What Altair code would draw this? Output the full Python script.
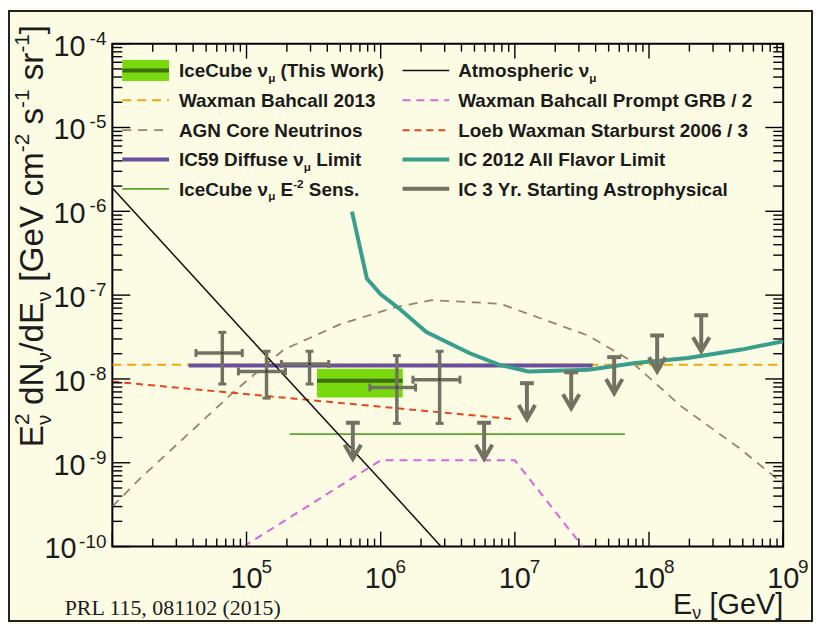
import altair as alt
import pandas as pd

W, H = 675, 506
PAD = {"left": 105, "top": 34, "right": 30, "bottom": 76}
BG = "#fcfbe4"
INK = "#1b1b1b"

# ---------------- data ----------------
wb2013_E = [1e4, 1e9]
wb2013_F = [1.48e-8, 1.48e-8]

agn_E = [1e4, 1.58e4, 8.1e4, 1.9e5, 5.0e5, 1.29e6, 2.4e6, 7.8e6, 3.5e7, 7.1e7, 1.74e8, 4.7e8, 1e9]
agn_F = [3.0e-10, 6.3e-10, 7.1e-9, 2.24e-8, 4.5e-8, 7.2e-8, 8.7e-8, 7.9e-8, 3.3e-8, 1.7e-8, 4.7e-9, 1.5e-9, 5.6e-10]

loeb_E = [1e4, 1e7]
loeb_F = [9.3e-9, 3.3e-9]

grb_E = [9.5e4, 1e6, 1e7, 3.2e7]
grb_F = [1e-10, 1.07e-9, 1.07e-9, 1e-10]

sens_E = [2.1e5, 6.6e7]
sens_F = [2.2e-9, 2.2e-9]

ic59_E = [3.7e4, 3.8e7]
ic59_F = [1.45e-8, 1.45e-8]

ic2012_E = [6.11e5, 7.89e5, 1e6, 1.36e6, 2.19e6, 4.57e6, 7.59e6, 1.26e7, 3.55e7, 7.94e7, 1.95e8, 4.9e8, 1e9]
ic2012_F = [9.9e-7, 1.58e-7, 1.02e-7, 7.0e-8, 3.63e-8, 2.04e-8, 1.48e-8, 1.23e-8, 1.29e-8, 1.55e-8, 1.78e-8, 2.24e-8, 2.82e-8]

atm_E = [1e4, 1e5, 1e6, 3.2e6]
atm_F = [1.9e-6, 3.4e-8, 6.2e-10, 8.0e-11]

# IC 3 yr starting: measured points
st_E = [6.6e4, 1.41e5, 2.95e5, 1.32e6, 2.75e6]
st_Elo = [4.2e4, 8.7e4, 1.82e5, 8.3e5, 1.74e6]
st_Ehi = [9.3e4, 1.95e5, 4.1e5, 1.82e6, 3.9e6]
st_F = [2.04e-8, 1.23e-8, 1.51e-8, 7.9e-9, 9.8e-9]
st_Flo = [8.7e-9, 5.9e-9, 8.7e-9, 2.95e-9, 2.95e-9]
st_Fhi = [3.6e-8, 2.14e-8, 2.14e-8, 1.9e-8, 2.14e-8]
# IC 3 yr starting: upper limits
ul_E = [6.2e5, 5.9e6, 1.23e7, 2.63e7, 5.5e7, 1.15e8, 2.45e8]
ul_F = [3.0e-9, 3.0e-9, 8.9e-9, 1.2e-8, 1.82e-8, 3.3e-8, 5.75e-8]

# This work (green band)
tw_Elo, tw_Ehi = [3.35e5], [1.46e6]
tw_Flo, tw_Fhi, tw_Fc = [6.0e-9], [1.32e-8], [9.5e-9]

# axis ticks / labels
x_decades = [1e4, 1e5, 1e6, 1e7, 1e8, 1e9]
y_decades = [1e-10, 1e-9, 1e-8, 1e-7, 1e-6, 1e-5, 1e-4]
minor_mult = [2, 3, 4, 5, 6, 7, 8, 9]
x_label_vals = [1e5, 1e6, 1e7, 1e8, 1e9]
x_label_exp = ["5", "6", "7", "8", "9"]
y_label_vals = [1e-4, 1e-5, 1e-6, 1e-7, 1e-8, 1e-9, 1e-10]
y_label_exp = ["-4", "-5", "-6", "-7", "-8", "-9", "-10"]

# ---------------- colours ----------------
C_ORANGE = "#eea60c"
C_BROWN = "#9a8270"
C_RED = "#e4471a"
C_MAG = "#d865dc"
C_SENS = "#5ca52c"
C_PURPLE = "#6a4f9c"
C_TEAL = "#3a9e8c"
C_GRAY = "#727262"
C_BLACK = "#111111"
C_BOX = "#78d90c"
C_BOXLINE = "#3f6e12"

xs = alt.Scale(type="log", domain=[1e4, 1e9])
ys = alt.Scale(type="log", domain=[1e-10, 1e-4])


def X(f="E"):
    return alt.X(f"{f}:Q", scale=xs, axis=None)


def Y(f="F"):
    return alt.Y(f"{f}:Q", scale=ys, axis=None)


def line(E, F, color, width, dash=None):
    kw = dict(color=color, strokeWidth=width, clip=True)
    if dash:
        kw["strokeDash"] = dash
    return alt.Chart(pd.DataFrame({"E": E, "F": F})).mark_line(**kw).encode(x=X(), y=Y())


layers = []

layers.append(line(agn_E, agn_F, C_BROWN, 1.8, [9, 7]))
layers.append(line(wb2013_E, wb2013_F, C_ORANGE, 2, [9, 6]))
layers.append(line(loeb_E, loeb_F, C_RED, 2, [7, 5]))
layers.append(line(grb_E, grb_F, C_MAG, 2, [8, 6]))
layers.append(line(sens_E, sens_F, C_SENS, 1.8))
layers.append(line(ic59_E, ic59_F, C_PURPLE, 4))

tw = pd.DataFrame({"E": tw_Elo, "E2": tw_Ehi, "F": tw_Flo, "F2": tw_Fhi, "Fc": tw_Fc})
layers.append(alt.Chart(tw).mark_rect(color=C_BOX, opacity=1).encode(
    x=X(), x2="E2:Q", y=Y(), y2="F2:Q"))
layers.append(alt.Chart(tw).mark_rule(color=C_BOXLINE, strokeWidth=4).encode(
    x=X(), x2="E2:Q", y=Y("Fc")))

layers.append(line(ic2012_E, ic2012_F, C_TEAL, 4))
layers.append(line(atm_E, atm_F, C_BLACK, 1.5))

st = pd.DataFrame({"E": st_E, "Elo": st_Elo, "Ehi": st_Ehi, "F": st_F, "Flo": st_Flo, "Fhi": st_Fhi})
layers.append(alt.Chart(st).mark_rule(color=C_GRAY, strokeWidth=3.5).encode(
    x=X("Elo"), x2="Ehi:Q", y=Y()))
layers.append(alt.Chart(st).mark_rule(color=C_GRAY, strokeWidth=3.5).encode(
    x=X(), y=Y("Flo"), y2="Fhi:Q"))
for fx, fy, shp in [("Elo", "F", "M0,-1L0,1"), ("Ehi", "F", "M0,-1L0,1"),
                    ("E", "Flo", "M-1,0L1,0"), ("E", "Fhi", "M-1,0L1,0")]:
    layers.append(alt.Chart(st).mark_point(shape=shp, size=64, filled=False, strokeWidth=3,
                                           color=C_GRAY, opacity=1).encode(x=X(fx), y=Y(fy)))
layers.append(alt.Chart(st).mark_point(shape="circle", size=5, filled=True, color="#222",
                                       opacity=1).encode(x=X(), y=Y()))

ul = pd.DataFrame({"E": ul_E, "F": ul_F})
ul["Ft"] = ul["F"] * 10 ** -0.43
layers.append(alt.Chart(ul).mark_rule(color=C_GRAY, strokeWidth=4).encode(
    x=X(), y=Y(), y2="Ft:Q"))
layers.append(alt.Chart(ul).mark_point(shape="M-1,0L1,0", size=196, filled=False, strokeWidth=4,
                                       color=C_GRAY, opacity=1).encode(x=X(), y=Y()))
layers.append(alt.Chart(ul).mark_point(shape="M-0.55,-0.95L0,0L0.55,-0.95", size=900, filled=False,
                                       strokeWidth=4, color=C_GRAY, opacity=1).encode(x=X(), y=Y("Ft")))

# ---------------- ticks (inside, all four sides) ----------------
xmaj = pd.DataFrame({"E": x_decades})
xmin = pd.DataFrame({"E": [m * d for d in x_decades[:-1] for m in minor_mult]})
ymaj = pd.DataFrame({"F": y_decades})
ymin = pd.DataFrame({"F": [m * d for d in y_decades[:-1] for m in minor_mult]})
for df, ln in [(xmaj, 15), (xmin, 8)]:
    layers.append(alt.Chart(df).mark_rule(color="black", strokeWidth=1.4).encode(
        x=X(), y=alt.value(H), y2=alt.value(H - ln)))
    layers.append(alt.Chart(df).mark_rule(color="black", strokeWidth=1.4).encode(
        x=X(), y=alt.value(0), y2=alt.value(ln)))
for df, ln in [(ymaj, 18), (ymin, 10)]:
    layers.append(alt.Chart(df).mark_rule(color="black", strokeWidth=1.4).encode(
        y=Y(), x=alt.value(0), x2=alt.value(ln)))
    layers.append(alt.Chart(df).mark_rule(color="black", strokeWidth=1.4).encode(
        y=Y(), x=alt.value(W), x2=alt.value(W - ln)))

# ---------------- tick labels ----------------
SANS = "Liberation Sans"
xl = pd.DataFrame({"E": x_label_vals, "exp": x_label_exp})
layers.append(alt.Chart(xl).mark_text(text="10", font=SANS, fontSize=29, align="center",
                                      baseline="alphabetic", color=INK).encode(
    x=X(), y=alt.value(H + 42)))
layers.append(alt.Chart(xl).mark_text(font=SANS, fontSize=19, align="left", dx=15,
                                      baseline="alphabetic", color=INK).encode(
    x=X(), y=alt.value(H + 27), text="exp:N"))
yl = pd.DataFrame({"F": y_label_vals, "exp": y_label_exp})
yl_a = yl[yl["exp"].str.len() == 2]
yl_b = yl[yl["exp"].str.len() == 3]
layers.append(alt.Chart(yl_a).mark_text(text="10", font=SANS, fontSize=29, align="right", dy=12,
                                        baseline="alphabetic", color=INK).encode(
    y=Y(), x=alt.value(-27)))
layers.append(alt.Chart(yl_b).mark_text(text="10", font=SANS, fontSize=29, align="right", dy=12,
                                        baseline="alphabetic", color=INK).encode(
    y=Y(), x=alt.value(-36)))
layers.append(alt.Chart(yl).mark_text(font=SANS, fontSize=19, align="right", dy=1,
                                      baseline="alphabetic", color=INK).encode(
    y=Y(), x=alt.value(-6), text="exp:N"))

# ---------------- text helpers (sub/superscripts) ----------------
REG = {' ': 278, '[': 278, ']': 278, '/': 278, '-': 333, 'E': 667, 'G': 778, 'V': 667, 'N': 722,
       'a': 556, 'c': 500, 'd': 556, 'e': 556, 'm': 833, 'r': 333, 's': 500, 'v': 500,
       'ν': 521, 'μ': 576}
BOLD = {' ': 278, '(': 333, ')': 333, '.': 278, '/': 278, '-': 333,
        'A': 722, 'B': 722, 'C': 722, 'D': 722, 'E': 667, 'F': 611, 'G': 778, 'H': 722, 'I': 278,
        'L': 611, 'M': 833, 'N': 722, 'P': 667, 'R': 722, 'S': 667, 'T': 611, 'W': 944, 'Y': 667,
        'a': 556, 'b': 611, 'c': 556, 'd': 611, 'e': 556, 'f': 333, 'g': 611, 'h': 611, 'i': 278,
        'k': 556, 'l': 278, 'm': 889, 'n': 611, 'o': 611, 'p': 611, 'r': 389, 's': 556, 't': 333,
        'u': 611, 'v': 556, 'w': 778, 'x': 556, 'y': 556, 'z': 500, 'ν': 556, 'μ': 611}


def tw_(t, fs, bold):
    tab = BOLD if bold else REG
    return sum(tab.get(ch, 556) for ch in t) * fs / 1000.0


def layout(segs, size, bold, sub_off=0.24):
    out, pos = [], 0.0
    for t, kind in segs:
        if kind == "n":
            fs, perp, adv = size, 0.0, True
        elif kind == "sup":
            fs, perp, adv = size * 0.62, -size * 0.40, True
        elif kind == "sup0":
            fs, perp, adv = size * 0.62, -size * 0.40, False
        else:
            fs, perp, adv = size * 0.62, size * sub_off, True
        stripped = t.lstrip(" ")
        lead = tw_(t[: len(t) - len(stripped)], fs, bold)
        out.append((stripped, pos + lead, perp, fs))
        if adv:
            pos += tw_(t, fs, bold)
    return out, pos


def put_text(segs, x0, y0, size, bold=False, angle=0, font=SANS, align_right=False, sub_off=0.24):
    pieces, total = layout(segs, size, bold, sub_off)
    if align_right:
        x0 = x0 - total
    res = []
    for t, pos, perp, fs in pieces:
        if angle:
            px, py = x0 + perp, y0 - pos
        else:
            px, py = x0 + pos, y0 + perp
        kw = dict(text=t, font=font, fontSize=fs, align="left", baseline="alphabetic", color=INK,
                  fontWeight="bold" if bold else "normal")
        if angle:
            kw["angle"] = angle
        res.append(alt.Chart(pd.DataFrame({"k": [0]})).mark_text(**kw).encode(
            x=alt.value(px), y=alt.value(py)))
    return res


# axis titles
layers += put_text([("E", "n"), ("2", "sup0"), ("ν", "sub"), (" dN", "n"), ("ν", "sub"),
                    ("/dE", "n"), ("ν", "sub"), (" [GeV cm", "n"), ("-2", "sup"), (" s", "n"),
                    ("-1", "sup"), (" sr", "n"), ("-1", "sup"), ("]", "n")],
                   -70, 406, 33.5, angle=270)
layers += put_text([("E", "n"), ("ν", "sub"), (" [GeV]", "n")], W, 574, 29, align_right=True,
                   sub_off=0.18)
layers += put_text([("PRL 115, 081102 (2015)", "n")], -48, 575, 22, font="Liberation Serif")

# ---------------- legend ----------------
rows = [27, 57, 87, 116.5, 146]
c1x, c2x = (10, 57), (292, 339)
t1, t2 = 67, 348


def sym_line(xr, y, color, width, dash=None):
    kw = dict(color=color, strokeWidth=width)
    if dash:
        kw["strokeDash"] = dash
    return alt.Chart(pd.DataFrame({"k": [0]})).mark_rule(**kw).encode(
        x=alt.value(xr[0]), x2=alt.value(xr[1]), y=alt.value(y))


layers.append(alt.Chart(pd.DataFrame({"k": [0]})).mark_rect(color=C_BOX, opacity=1).encode(
    x=alt.value(c1x[0]), x2=alt.value(c1x[1]), y=alt.value(rows[0] - 10.5), y2=alt.value(rows[0] + 10.5)))
layers.append(sym_line(c1x, rows[0], C_BOXLINE, 4))
layers.append(sym_line(c1x, rows[1], C_ORANGE, 2, [9, 6]))
layers.append(sym_line(c1x, rows[2], C_BROWN, 1.8, [9, 7]))
layers.append(sym_line(c1x, rows[3], C_PURPLE, 4))
layers.append(sym_line(c1x, rows[4], C_SENS, 1.8))
layers.append(sym_line(c2x, rows[0], C_BLACK, 1.5))
layers.append(sym_line(c2x, rows[1], C_MAG, 2, [8, 6]))
layers.append(sym_line(c2x, rows[2], C_RED, 2, [7, 5]))
layers.append(sym_line(c2x, rows[3], C_TEAL, 4))
layers.append(sym_line(c2x, rows[4], C_GRAY, 4))

LS = 19
leg1 = [
    [("IceCube ν", "n"), ("μ", "sub"), (" (This Work)", "n")],
    [("Waxman Bahcall 2013", "n")],
    [("AGN Core Neutrinos", "n")],
    [("IC59 Diffuse ν", "n"), ("μ", "sub"), (" Limit", "n")],
    [("IceCube ν", "n"), ("μ", "sub"), (" E", "n"), ("-2", "sup"), (" Sens.", "n")],
]
leg2 = [
    [("Atmospheric ν", "n"), ("μ", "sub")],
    [("Waxman Bahcall Prompt GRB / 2", "n")],
    [("Loeb Waxman Starburst 2006 / 3", "n")],
    [("IC 2012 All Flavor Limit", "n")],
    [("IC 3 Yr. Starting Astrophysical", "n")],
]
for r, segs in zip(rows, leg1):
    layers += put_text(segs, t1, r + 7, LS, bold=True)
for r, segs in zip(rows, leg2):
    layers += put_text(segs, t2, r + 7, LS, bold=True)

# outer border
layers.append(alt.Chart(pd.DataFrame({"k": [0]})).mark_rect(filled=False, color="#222", strokeWidth=2).encode(
    x=alt.value(-PAD["left"] + 1), x2=alt.value(W + PAD["right"] - 1),
    y=alt.value(-PAD["top"] + 1), y2=alt.value(H + PAD["bottom"] - 1)))

chart = alt.layer(*layers).properties(
    width=W, height=H, padding=PAD, autosize=alt.AutoSizeParams(type="none")
).configure(background=BG).configure_view(stroke="black", strokeWidth=2)

chart.save("out.html", embed_options={"renderer": "svg", "actions": False})
